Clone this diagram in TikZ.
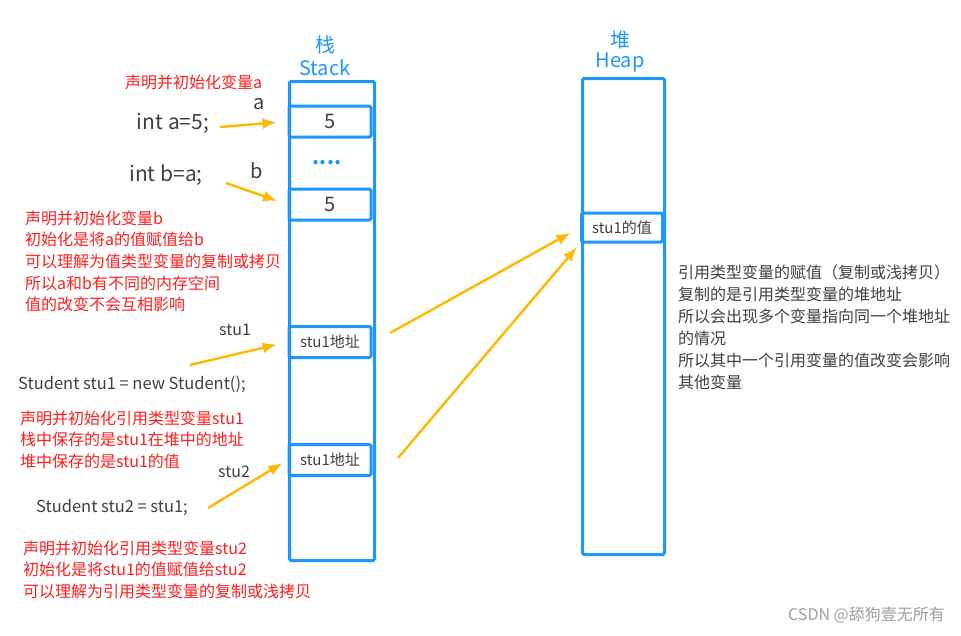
\documentclass[tikz,border=0pt]{standalone}
\usepackage{fontspec}
\setmainfont{Noto Sans CJK SC}
\usetikzlibrary{
  arrows.meta,
  positioning
}
\definecolor{memblue}{RGB}{30,150,255}
\definecolor{ptrorange}{RGB}{255,184,0}
\definecolor{notered}{RGB}{255,30,30}
\definecolor{codegrey}{RGB}{64,64,64}
\tikzset{
  x = 1pt, y = -1pt,
  mem/.style = {draw=memblue, line width=3pt, rounded corners=1.5pt, inner sep=0},
  cell/.style = {mem, minimum width=82pt, minimum height=31pt, text=codegrey},
  ptr/.style = {draw=ptrorange, line width=2.4pt, -{Latex[length=14pt,width=11pt]}, shorten >=11pt},
  note/.style = {text=notered, align=left, anchor=base west, inner sep=0,
                 font=\fontsize{16}{21.7}\selectfont},
  code/.style = {text=codegrey, inner sep=0},
  title/.style = {text=memblue, inner sep=0, align=center},
}

\begin{document}
\begin{tikzpicture}
\useasboundingbox (0,0) rectangle (961,635);
\fill[white] (0,0) rectangle (961,635);

% the two memory columns
\node[mem, minimum width=85pt, minimum height=479pt, anchor=north west] (stack) at (288,80) {};
\node[mem, minimum width=82pt, minimum height=476pt, anchor=north west] (heap) at (581,77) {};
\node[title, font=\fontsize{20}{23}\selectfont] (stackTitle) at (325,56) {栈\\Stack};
\node[title, font=\fontsize{20}{20}\selectfont] (heapTitle) at (620,51) {堆\\Heap};

% stack cells
\node[cell, font=\fontsize{20}{24}\selectfont] (cellA) at (330,121.5) {5};
\node[text=memblue, inner sep=0, font=\bfseries\fontsize{20}{24}\selectfont] (dots) at (327,163) {....};
\node[cell, font=\fontsize{20}{24}\selectfont] (cellB) at (330,204.5) {5};
\node[cell, font=\fontsize{15}{18}\selectfont] (cellS1) at (330,342) {stu1地址};
\node[cell, font=\fontsize{15}{18}\selectfont] (cellS2) at (330,460) {stu1地址};

% heap cell
\node[cell, minimum width=81pt, minimum height=29pt, font=\fontsize{15}{18}\selectfont] (heapCell) at (622,227.5) {stu1的值};

% code and variable names
\node[code, font=\fontsize{21}{24}\selectfont] (intA) at (173,123) {int a=5;};
\node[code, font=\fontsize{21}{24}\selectfont] (intB) at (166,175) {int b=a;};
\node[code, font=\fontsize{20}{24}\selectfont] (lblA) at (259,104) {a};
\node[code, font=\fontsize{20}{24}\selectfont] (lblB) at (257,171) {b};
\node[code, font=\fontsize{16}{19}\selectfont] (lblS1) at (235,330) {stu1};
\node[code, font=\fontsize{16}{19}\selectfont] (lblS2) at (234,472) {stu2};
\node[code, anchor=west, font=\fontsize{16.5}{20}\selectfont] (newStu1) at (18,384) {Student stu1 = new Student();};
\node[code, anchor=west, font=\fontsize{16.5}{20}\selectfont] (newStu2) at (36,507) {Student stu2 = stu1;};

% red notes (base = last line)
\node[note] (noteA) at (125,88) {声明并初始化变量a};
\node[note] (noteB) at (25,310.8) {声明并初始化变量b\\初始化是将a的值赋值给b\\可以理解为值类型变量的复制或拷贝\\所以a和b有不同的内存空间\\值的改变不会互相影响};
\node[note] (noteS1) at (20,467.4) {声明并初始化引用类型变量stu1\\栈中保存的是stu1在堆中的地址\\堆中保存的是stu1的值};
\node[note] (noteS2) at (23,597.4) {声明并初始化引用类型变量stu2\\初始化是将stu1的值赋值给stu2\\可以理解为引用类型变量的复制或浅拷贝};

% explanation on the right
\node[code, align=left, anchor=base west, font=\fontsize{16}{22}\selectfont] (refNote) at (678,388)
  {引用类型变量的赋值（复制或浅拷贝）\\复制的是引用类型变量的堆地址\\所以会出现多个变量指向同一个堆地址\\的情况\\所以其中一个引用变量的值改变会影响\\其他变量};

\node[text=gray!75, anchor=east, inner sep=0, font=\fontsize{16}{19}\selectfont] (mark) at (945,615) {CSDN @舔狗壹无所有};

% pointers
\coordinate (fromA) at (220,127);
\coordinate (fromB) at (226,183);
\coordinate (fromS1) at (190,365);
\coordinate (fromS2) at (208,508);
\coordinate (fromH1) at (390,333);
\coordinate (fromH2) at (398,458);
\draw[ptr] (fromA) -- (cellA.west);
\draw[ptr] (fromB) -- (cellB.west);
\draw[ptr] (fromS1) -- (cellS1.west);
\draw[ptr, shorten >=6pt] (fromS2) -- (cellS2.west);
\draw[ptr] (fromH1) -- (heapCell.west);
\draw[ptr, shorten >=5pt] (fromH2) -- (heapCell.south west);
\end{tikzpicture}
\end{document}
